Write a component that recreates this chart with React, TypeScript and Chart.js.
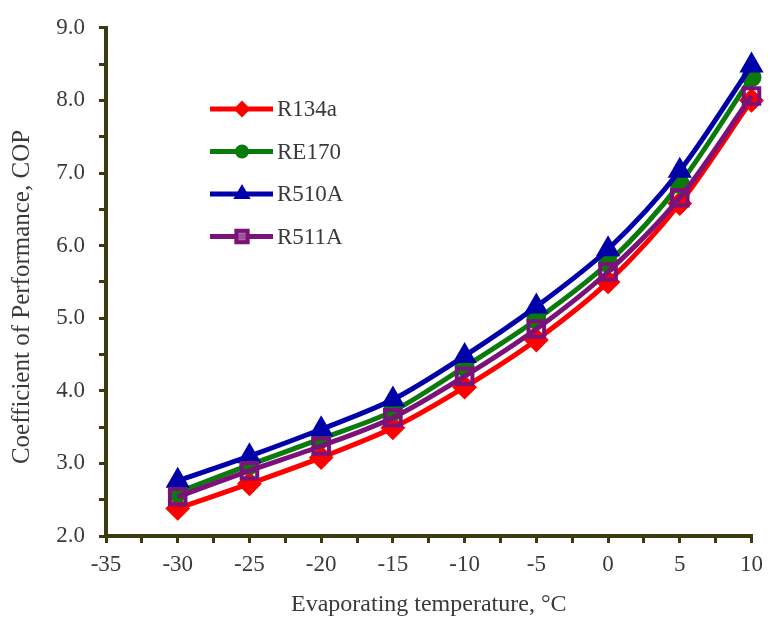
import React, { useEffect, useRef } from "react";
import { Chart, registerables } from "chart.js";

Chart.register(...registerables);

const temperatures = [-30, -25, -20, -15, -10, -5, 0, 5, 10];
const r134a = [2.38, 2.72, 3.08, 3.49, 4.05, 4.7, 5.5, 6.58, 8.0];
const re170 = [2.6, 2.98, 3.34, 3.72, 4.33, 4.98, 5.76, 6.85, 8.32];
const r510a = [2.76, 3.1, 3.47, 3.88, 4.48, 5.16, 5.95, 7.03, 8.48];
const r511a = [2.54, 2.9, 3.24, 3.63, 4.2, 4.85, 5.64, 6.66, 8.06];

const seriesNames = ["R134a", "RE170", "R510A", "R511A"];
const xTitle = "Evaporating temperature, \u00B0C";
const yTitle = "Coefficient of Performance, COP";

const FONT = "'Liberation Serif', 'Times New Roman', serif";
const AXIS = "#3b3b12";
const TEXT = "#3a3a3a";

const styles = [
  { color: "#ff0000", point: "rectRot", r: 11, bw: 2, bg: "#ff0000", order: 3, lr: 7 },
  { color: "#0a7a0a", point: "circle", r: 9, bw: 2, bg: "#0a7a0a", order: 2, lr: 6 },
  { color: "#0000a8", point: "triangle", r: 12, bw: 2, bg: "#0000a8", order: 1, lr: 8 },
  { color: "#7a127a", point: "rect", r: 11, bw: 4, bg: "rgba(0,0,0,0)", order: 0, lr: 8 },
];

function drawMarker(ctx: CanvasRenderingContext2D, style: string, x: number, y: number, r: number) {
  ctx.beginPath();
  if (style === "circle") {
    ctx.arc(x, y, r, 0, Math.PI * 2);
  } else if (style === "rectRot") {
    ctx.moveTo(x, y - r);
    ctx.lineTo(x + r, y);
    ctx.lineTo(x, y + r);
    ctx.lineTo(x - r, y);
    ctx.closePath();
  } else if (style === "triangle") {
    ctx.moveTo(x, y - r);
    ctx.lineTo(x + r * 0.866, y + r * 0.5);
    ctx.lineTo(x - r * 0.866, y + r * 0.5);
    ctx.closePath();
  } else {
    const s = r * Math.SQRT1_2;
    ctx.rect(x - s, y - s, 2 * s, 2 * s);
  }
}

const legendPlugin = {
  id: "insideLegend",
  afterDatasetsDraw(chart: any) {
    const ctx: CanvasRenderingContext2D = chart.ctx;
    const rows = [109, 151.5, 194, 236.5];
    ctx.save();
    seriesNames.forEach((name, i) => {
      const s = styles[i];
      const y = rows[i];
      ctx.strokeStyle = s.color;
      ctx.lineWidth = 5;
      ctx.beginPath();
      ctx.moveTo(210, y);
      ctx.lineTo(273, y);
      ctx.stroke();
      drawMarker(ctx, s.point, 242, y, s.lr);
      if (s.bg !== "rgba(0,0,0,0)") {
        ctx.fillStyle = s.bg;
        ctx.fill();
      } else {
        ctx.fillStyle = "rgba(160,90,160,0.9)";
        ctx.fill();
      }
      ctx.lineWidth = s.bw;
      ctx.strokeStyle = s.color;
      ctx.stroke();
      ctx.fillStyle = TEXT;
      ctx.font = `23px ${FONT}`;
      ctx.textAlign = "left";
      ctx.textBaseline = "middle";
      ctx.fillText(name, 277, y + 1);
    });
    // y-axis title
    ctx.translate(22, 297);
    ctx.rotate(-Math.PI / 2);
    ctx.fillStyle = TEXT;
    ctx.font = `25px ${FONT}`;
    ctx.textAlign = "center";
    ctx.textBaseline = "middle";
    ctx.fillText(yTitle, 0, 0);
    ctx.restore();
  },
};

export default function App() {
  const ref = useRef<HTMLCanvasElement | null>(null);

  useEffect(() => {
    if (!ref.current) return;
    const all = [r134a, re170, r510a, r511a];
    const chart = new Chart(ref.current, {
      type: "line",
      data: {
        datasets: all.map((vals, i) => ({
          label: seriesNames[i],
          data: temperatures.map((t, j) => ({ x: t, y: vals[j] })),
          borderColor: styles[i].color,
          backgroundColor: styles[i].bg,
          pointBackgroundColor: styles[i].bg,
          pointBorderColor: styles[i].color,
          pointStyle: styles[i].point as any,
          pointRadius: styles[i].r,
          pointBorderWidth: styles[i].bw,
          borderWidth: 5,
          tension: 0.3,
          order: styles[i].order,
          clip: false as any,
        })),
      },
      options: {
        responsive: false,
        animation: false,
        devicePixelRatio: 1,
        layout: { padding: { top: 23, right: 13, left: 0, bottom: 0 } },
        plugins: { legend: { display: false }, tooltip: { enabled: false } },
        scales: {
          x: {
            type: "linear",
            min: -35,
            max: 10,
            afterFit: (scale: any) => {
              scale.height = 87;
            },
            border: { display: true, color: AXIS, width: 4 },
            grid: { display: true, drawOnChartArea: false, drawTicks: true, tickLength: 7, color: AXIS, lineWidth: 3 },
            ticks: {
              stepSize: 2.5,
              autoSkip: false,
              maxRotation: 0,
              padding: 8,
              color: TEXT,
              font: { family: FONT, size: 23 },
              callback: (v: any) => (Number(v) % 5 === 0 ? String(v) : ""),
            },
            title: {
              display: true,
              text: xTitle,
              color: TEXT,
              font: { family: FONT, size: 24 },
              padding: { top: 0, bottom: 4 },
            },
          },
          y: {
            type: "linear",
            min: 2,
            max: 9,
            afterFit: (scale: any) => {
              scale.width = 106;
            },
            border: { display: true, color: AXIS, width: 4 },
            grid: { display: true, drawOnChartArea: false, drawTicks: true, tickLength: 7, color: AXIS, lineWidth: 3 },
            ticks: {
              stepSize: 0.5,
              autoSkip: false,
              padding: 14,
              color: TEXT,
              font: { family: FONT, size: 23 },
              callback: (v: any) => (Number.isInteger(Number(v)) ? Number(v).toFixed(1) : ""),
            },
            title: { display: false },
          },
        },
      },
      plugins: [legendPlugin],
    });
    return () => chart.destroy();
  }, []);

  return (
    <div style={{ position: "fixed", left: 0, top: 0, width: 771, height: 623, background: "#ffffff" }}>
      <canvas ref={ref} width={771} height={623} />
    </div>
  );
}
